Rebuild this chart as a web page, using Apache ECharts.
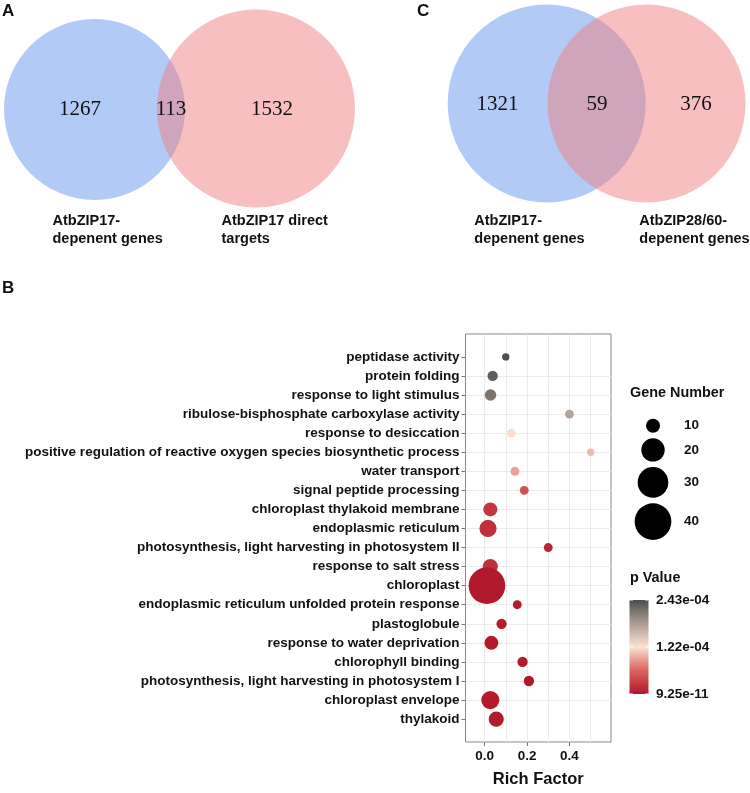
<!DOCTYPE html>
<html><head><meta charset="utf-8">
<script src="https://cdn.jsdelivr.net/npm/echarts@6/dist/echarts.min.js"></script>
<style>html,body{margin:0;padding:0;background:#fff}#main{width:750px;height:793px}</style>
</head><body><div id="main"></div>
<script>
// ---- Data ----
const categories = [
  'peptidase activity',
  'protein folding',
  'response to light stimulus',
  'ribulose-bisphosphate carboxylase activity',
  'response to desiccation',
  'positive regulation of reactive oxygen species biosynthetic process',
  'water transport',
  'signal peptide processing',
  'chloroplast thylakoid membrane',
  'endoplasmic reticulum',
  'photosynthesis, light harvesting in photosystem II',
  'response to salt stress',
  'chloroplast',
  'endoplasmic reticulum unfolded protein response',
  'plastoglobule',
  'response to water deprivation',
  'chlorophyll binding',
  'photosynthesis, light harvesting in photosystem I',
  'chloroplast envelope',
  'thylakoid'
];
const richFactor = [0.100, 0.038, 0.028, 0.400, 0.126, 0.500, 0.143, 0.187, 0.027, 0.016,
                    0.300, 0.027, 0.011, 0.154, 0.080, 0.032, 0.179, 0.209, 0.027, 0.055];
const geneNumber = [5, 7, 8, 6, 6, 5, 6, 6, 10, 13, 6, 11, 40, 6, 7, 10, 7, 7, 14, 11];
const pValue = [2.43e-4, 2.31e-4, 2.13e-4, 1.75e-4, 1.2e-4, 1.02e-4, 0.9e-4, 0.46e-4, 0.24e-4, 0.19e-4,
                0.11e-4, 0.19e-4, 1e-6, 2e-6, 3e-6, 3e-6, 1e-6, 9.25e-11, 2e-6, 2e-6];
const xTickValues = [0, 0.2, 0.4];
const sizeLegendValues = [10, 20, 30, 40];
const pValueTicks = [2.43e-4, 1.22e-4, 9.25e-11];
const pValueTickLabels = ['2.43e-04', '1.22e-04', '9.25e-11'];
const vennACounts = [1267, 113, 1532];
const vennALabels = ['AtbZIP17-\ndepenent genes', 'AtbZIP17 direct\ntargets'];
const vennCCounts = [1321, 59, 376];
const vennCLabels = ['AtbZIP17-\ndepenent genes', 'AtbZIP28/60-\ndepenent genes'];

// ---- Styles / helpers ----
const SANS = '"Liberation Sans", Arial, Helvetica, sans-serif';
const SERIF = '"Liberation Serif", "Times New Roman", serif';
const colorStops = ['#B2182B', '#D8645E', '#FCE1D2', '#AD9C92', '#4D4D4D'];
const pMin = 9.25e-11, pMax = 2.43e-4;
const sizeFn = n => Math.max(2, 7.18 * Math.sqrt(n) - 8.7);
const N = categories.length;
const idx = categories.map((_, i) => i);
const seriesData = categories.map((c, i) => [richFactor[i], N - 1 - i, geneNumber[i], pValue[i], c]);

const graphic = [];
function txt(x, y, text, font, opts) {
  opts = opts || {};
  graphic.push({
    type: 'text', x: x, y: y, z: 50,
    style: Object.assign({
      text: text, font: font, fill: '#111',
      align: opts.align || 'left', verticalAlign: opts.va || 'middle',
      textAlign: opts.align || 'left', textVerticalAlign: opts.va || 'middle',
      lineHeight: opts.lh || undefined
    })
  });
}
function circ(cx, cy, r, fill) {
  graphic.push({ type: 'circle', shape: { cx: cx, cy: cy, r: r }, style: { fill: fill }, z: 10 });
}

// Panel letters
txt(2, 11, 'A', 'bold 17px ' + SANS);
txt(417, 11, 'C', 'bold 17px ' + SANS);
txt(2, 288, 'B', 'bold 17px ' + SANS);

// Venn A
circ(94.5, 109.5, 90.5, 'rgba(100,149,237,0.5)');
circ(256, 108.5, 99, 'rgba(240,128,128,0.5)');
txt(80, 109, String(vennACounts[0]), '21px ' + SERIF, { align: 'center' });
txt(171, 109, String(vennACounts[1]), '21px ' + SERIF, { align: 'center' });
txt(272, 109, String(vennACounts[2]), '21px ' + SERIF, { align: 'center' });
txt(52.5, 212, vennALabels[0], 'bold 14.5px ' + SANS, { va: 'top', lh: 18 });
txt(221.5, 212, vennALabels[1], 'bold 14.5px ' + SANS, { va: 'top', lh: 18 });

// Venn C
circ(546.7, 103.5, 99, 'rgba(100,149,237,0.5)');
circ(646.5, 103.5, 99, 'rgba(240,128,128,0.5)');
txt(497.5, 104, String(vennCCounts[0]), '21px ' + SERIF, { align: 'center' });
txt(597, 104, String(vennCCounts[1]), '21px ' + SERIF, { align: 'center' });
txt(696, 104, String(vennCCounts[2]), '21px ' + SERIF, { align: 'center' });
txt(474.3, 212, vennCLabels[0], 'bold 14.5px ' + SANS, { va: 'top', lh: 18 });
txt(639.3, 212, vennCLabels[1], 'bold 14.5px ' + SANS, { va: 'top', lh: 18 });

// Size legend
txt(630, 393.5, 'Gene Number', 'bold 14.4px ' + SANS);
let ly = 425.7, prevD = null;
sizeLegendValues.forEach((v, k) => {
  const d = sizeFn(v);
  if (k > 0) ly += (prevD + d) / 2 + 5.5;
  circ(653, ly, d / 2, '#000');
  txt(684, ly, String(v), 'bold 13.5px ' + SANS);
  prevD = d;
});

// Colour bar legend
txt(630, 578, 'p Value', 'bold 14.4px ' + SANS);
const cbX = 629.5, cbY = 600, cbW = 19, cbH = 94;
graphic.push({
  type: 'rect', shape: { x: cbX, y: cbY, width: cbW, height: cbH }, z: 10,
  style: {
    fill: {
      type: 'linear', x: 0, y: 0, x2: 0, y2: 1,
      colorStops: colorStops.slice().reverse().map((c, i, a) => ({ offset: i / (a.length - 1), color: c }))
    }
  }
});
pValueTicks.forEach((p, k) => {
  const y = cbY + cbH - (p - pMin) / (pMax - pMin) * cbH;
  graphic.push({ type: 'line', shape: { x1: cbX, y1: y, x2: cbX + 3.5, y2: y }, style: { stroke: '#fff', lineWidth: 1 }, z: 11 });
  graphic.push({ type: 'line', shape: { x1: cbX + cbW - 3.5, y1: y, x2: cbX + cbW, y2: y }, style: { stroke: '#fff', lineWidth: 1 }, z: 11 });
  txt(656, y, pValueTickLabels[k], 'bold 13.5px ' + SANS);
});

const option = {
  animation: false,
  backgroundColor: '#fff',
  textStyle: { fontFamily: SANS },
  grid: { left: 465.5, top: 334, width: 145.5, height: 412, show: true, borderColor: '#8a8a8a', borderWidth: 1, backgroundColor: '#fff', containLabel: false },
  xAxis: [
    {
      type: 'value', min: -0.09, max: 0.596, splitNumber: 7, position: 'bottom',
      axisLine: { show: false, onZero: false }, axisTick: { show: false },
      axisLabel: { customValues: xTickValues, formatter: v => Number(v).toFixed(1), fontSize: 13.5, fontWeight: 'bold', color: '#111', margin: 7, fontFamily: SANS },
      splitLine: { show: true, showMinLine: false, showMaxLine: false, lineStyle: { color: '#ebebeb', width: 1 } },
      name: 'Rich Factor', nameLocation: 'middle', nameGap: 29,
      nameTextStyle: { fontSize: 16.5, fontWeight: 'bold', color: '#111', fontFamily: SANS }
    },
    {
      type: 'value', min: -0.09, max: 0.596, position: 'bottom',
      axisLine: { show: false, onZero: false },
      axisTick: { show: true, inside: false, customValues: xTickValues, length: 4, lineStyle: { color: '#777' } },
      axisLabel: { show: false }, splitLine: { show: false }
    }
  ],
  yAxis: {
    type: 'value', min: -1.2, max: 20.2, position: 'left',
    axisLine: { show: false, onZero: false },
    axisTick: { show: true, inside: false, customValues: idx, length: 4, lineStyle: { color: '#777' } },
    axisLabel: { customValues: idx, formatter: v => categories[N - 1 - Math.round(v)], fontSize: 13.5, fontWeight: 'bold', color: '#111', margin: 6, fontFamily: SANS },
    splitLine: { show: true, showMinLine: false, showMaxLine: false, lineStyle: { color: '#ebebeb', width: 1 } }
  },
  visualMap: {
    type: 'continuous', show: false, dimension: 3, min: pMin, max: pMax, seriesIndex: 0,
    inRange: { color: colorStops }
  },
  series: [{
    type: 'scatter', xAxisIndex: 0, yAxisIndex: 0,
    data: seriesData,
    symbol: 'circle',
    symbolSize: v => sizeFn(v[2]),
    itemStyle: { opacity: 1 },
    z: 5
  }],
  graphic: graphic
};

const chart = echarts.init(document.getElementById('main'), null, { renderer: 'canvas' });
chart.setOption(option);
</script>
</body></html>
